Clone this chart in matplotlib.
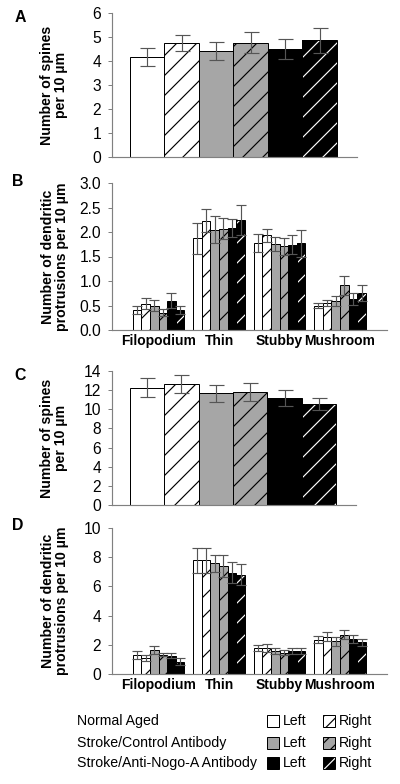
import matplotlib
matplotlib.use("Agg")
import matplotlib.pyplot as plt
from matplotlib.patches import Rectangle
import numpy as np

plt.rcParams['font.family'] = ['Liberation Sans', 'DejaVu Sans']
plt.rcParams['hatch.linewidth'] = 0.7

# ---------------- data ----------------
groups = ["Normal Aged", "Stroke/Control Antibody", "Stroke/Anti-Nogo-A Antibody"]
sides = ["Left", "Right"]
categories = ["Filopodium", "Thin", "Stubby", "Mushroom"]

# bar order: NA-L, NA-R, SC-L, SC-R, SN-L, SN-R
A_means = [4.17, 4.76, 4.43, 4.77, 4.50, 4.86]
A_err = [0.36, 0.34, 0.38, 0.42, 0.40, 0.52]

C_means = [12.25, 12.65, 11.65, 11.78, 11.18, 10.57]
C_err = [1.00, 0.95, 0.85, 0.95, 0.85, 0.60]

# rows: bars, columns: categories (Filopodium, Thin, Stubby, Mushroom)
B_means = [[0.41, 1.87, 1.77, 0.50],
           [0.54, 2.23, 1.93, 0.56],
           [0.50, 2.05, 1.75, 0.60],
           [0.35, 2.07, 1.71, 0.91],
           [0.60, 2.08, 1.74, 0.64],
           [0.41, 2.24, 1.77, 0.75]]
B_err = [[0.09, 0.31, 0.18, 0.06],
         [0.12, 0.23, 0.14, 0.06],
         [0.12, 0.28, 0.14, 0.10],
         [0.07, 0.21, 0.17, 0.20],
         [0.16, 0.18, 0.19, 0.12],
         [0.09, 0.31, 0.28, 0.16]]

D_means = [[1.30, 7.78, 1.76, 2.34],
           [1.08, 7.78, 1.80, 2.55],
           [1.62, 7.57, 1.55, 2.25],
           [1.33, 7.40, 1.46, 2.70],
           [1.26, 6.93, 1.58, 2.38],
           [0.85, 6.80, 1.58, 2.18]]
D_err = [[0.27, 0.84, 0.20, 0.25],
         [0.22, 0.84, 0.28, 0.30],
         [0.28, 0.57, 0.21, 0.30],
         [0.12, 0.78, 0.16, 0.30],
         [0.18, 0.73, 0.18, 0.28],
         [0.23, 0.72, 0.22, 0.23]]

# ---------------- styles ----------------
fills = ['white', '#a6a6a6', 'black']
hatch_cols = ['black', 'black', 'white']
spine_col = '#808080'
err_col = '#555555'
TICK_FS = 9.4
CAT_FS = 8.3
LAB_FS = 8.5

W, H = 400, 784
fig = plt.figure(figsize=(W / 120, H / 120), dpi=120)


def fx(px):
    return px / W


def fy(py):
    return 1 - py / H


def make_ax(left, right, top, bottom):
    return fig.add_axes([fx(left), fy(bottom), fx(right) - fx(left), fy(top) - fy(bottom)])


def draw_bar(ax, x, h, w, i):
    g = i // 2
    hatched = i % 2 == 1
    if hatched:
        ax.bar(x, h, w, color=fills[g], edgecolor=hatch_cols[g], hatch='//', linewidth=0)
        ax.bar(x, h, w, fill=False, edgecolor='black', linewidth=0.6)
    else:
        ax.bar(x, h, w, color=fills[g], edgecolor='black', linewidth=0.6)


def style_ax(ax):
    for s in ['top', 'right']:
        ax.spines[s].set_visible(False)
    for s in ['left', 'bottom']:
        ax.spines[s].set_color(spine_col)
        ax.spines[s].set_linewidth(0.7)
    ax.tick_params(axis='y', length=2.5, width=0.6, color=spine_col, pad=4.0, labelsize=TICK_FS)
    ax.tick_params(axis='x', length=0, pad=2.5)


# ---------- Panel A & C (totals) ----------
def total_panel(top, bottom, right, means, errs, ymax, ystep, letter, ylabel, capsize):
    ax = make_ax(112, right, top, bottom)
    x = np.arange(len(means))
    for i in range(len(means)):
        draw_bar(ax, x[i], means[i], 1.0, i)
    ax.errorbar(x, means, yerr=errs, fmt='none', ecolor=err_col, elinewidth=0.7,
                capsize=capsize, capthick=0.7)
    ax.set_xlim(-1.02, 6.08)
    ax.set_ylim(0, ymax)
    ax.set_yticks(np.arange(0, ymax + 0.001, ystep))
    ax.set_xticks([])
    style_ax(ax)
    fig.text(fx(20), fy((top + 5)), letter, fontsize=9.5, fontweight='bold', ha='center', va='center')
    fig.text(fx(54), fy((top + bottom) / 2), ylabel, rotation=90, fontsize=LAB_FS,
             fontweight='bold', ha='center', va='center', multialignment='center', linespacing=1.05)
    return ax


total_panel(13, 157, 357, A_means, A_err, 6, 1, 'A', 'Number of spines\nper 10 µm', 4.5)
total_panel(371, 505, 356, C_means, C_err, 14, 2, 'C', 'Number of spines\nper 10 µm', 4.5)


# ---------- Panel B & D (protrusion types) ----------
def type_panel(top, bottom, means, errs, ymax, ystep, fmt, letter):
    ax = make_ax(112, 387, top, bottom)
    w = 1 / 7
    xc = np.arange(len(categories))
    for i in range(6):
        xs = xc + (i - 2.5) * w
        for j in range(len(categories)):
            draw_bar(ax, xs[j], means[i][j], w, i)
        ax.errorbar(xs, means[i], yerr=errs[i], fmt='none', ecolor=err_col, elinewidth=0.7,
                    capsize=2.8, capthick=0.7)
    ax.set_xlim(-0.769, 3.777)
    ax.set_ylim(0, ymax)
    ticks = np.arange(0, ymax + 0.001, ystep)
    ax.set_yticks(ticks)
    ax.set_yticklabels([fmt.format(t) for t in ticks])
    ax.set_xticks(xc)
    ax.set_xticklabels(categories, fontsize=CAT_FS, fontweight='bold')
    style_ax(ax)
    fig.text(fx(18), fy(top - 2), letter, fontsize=9.5, fontweight='bold', ha='center', va='center')
    fig.text(fx(55), fy((top + bottom) / 2), 'Number of dendritic\nprotrusions per 10 µm', rotation=90,
             fontsize=LAB_FS, fontweight='bold', ha='center', va='center',
             multialignment='center', linespacing=1.05)
    return ax


type_panel(183, 330, B_means, B_err, 3.0, 0.5, '{:.1f}', 'B')
type_panel(528, 674, D_means, D_err, 10, 2, '{:.0f}', 'D')

# ---------- Legend ----------
row_y = [720.7, 742.7, 763.3]
sw = 12
for g in range(3):
    yc = row_y[g]
    fig.text(fx(77), fy(yc), groups[g], fontsize=LAB_FS, ha='left', va='center')
    # left swatch
    fig.patches.append(Rectangle((fx(267), fy(yc + sw / 2)), fx(sw), sw / H,
                                 transform=fig.transFigure, facecolor=fills[g],
                                 edgecolor='black', linewidth=0.6))
    fig.text(fx(283), fy(yc), sides[0], fontsize=LAB_FS, ha='left', va='center')
    # right swatch (hatched)
    fig.patches.append(Rectangle((fx(323), fy(yc + sw / 2)), fx(sw), sw / H,
                                 transform=fig.transFigure, facecolor=fills[g],
                                 edgecolor=hatch_cols[g], hatch='///', linewidth=0))
    fig.patches.append(Rectangle((fx(323), fy(yc + sw / 2)), fx(sw), sw / H,
                                 transform=fig.transFigure, fill=False,
                                 edgecolor='black', linewidth=0.6))
    fig.text(fx(339), fy(yc), sides[1], fontsize=LAB_FS, ha='left', va='center')

fig.savefig('out.png', dpi=120, facecolor='white')
